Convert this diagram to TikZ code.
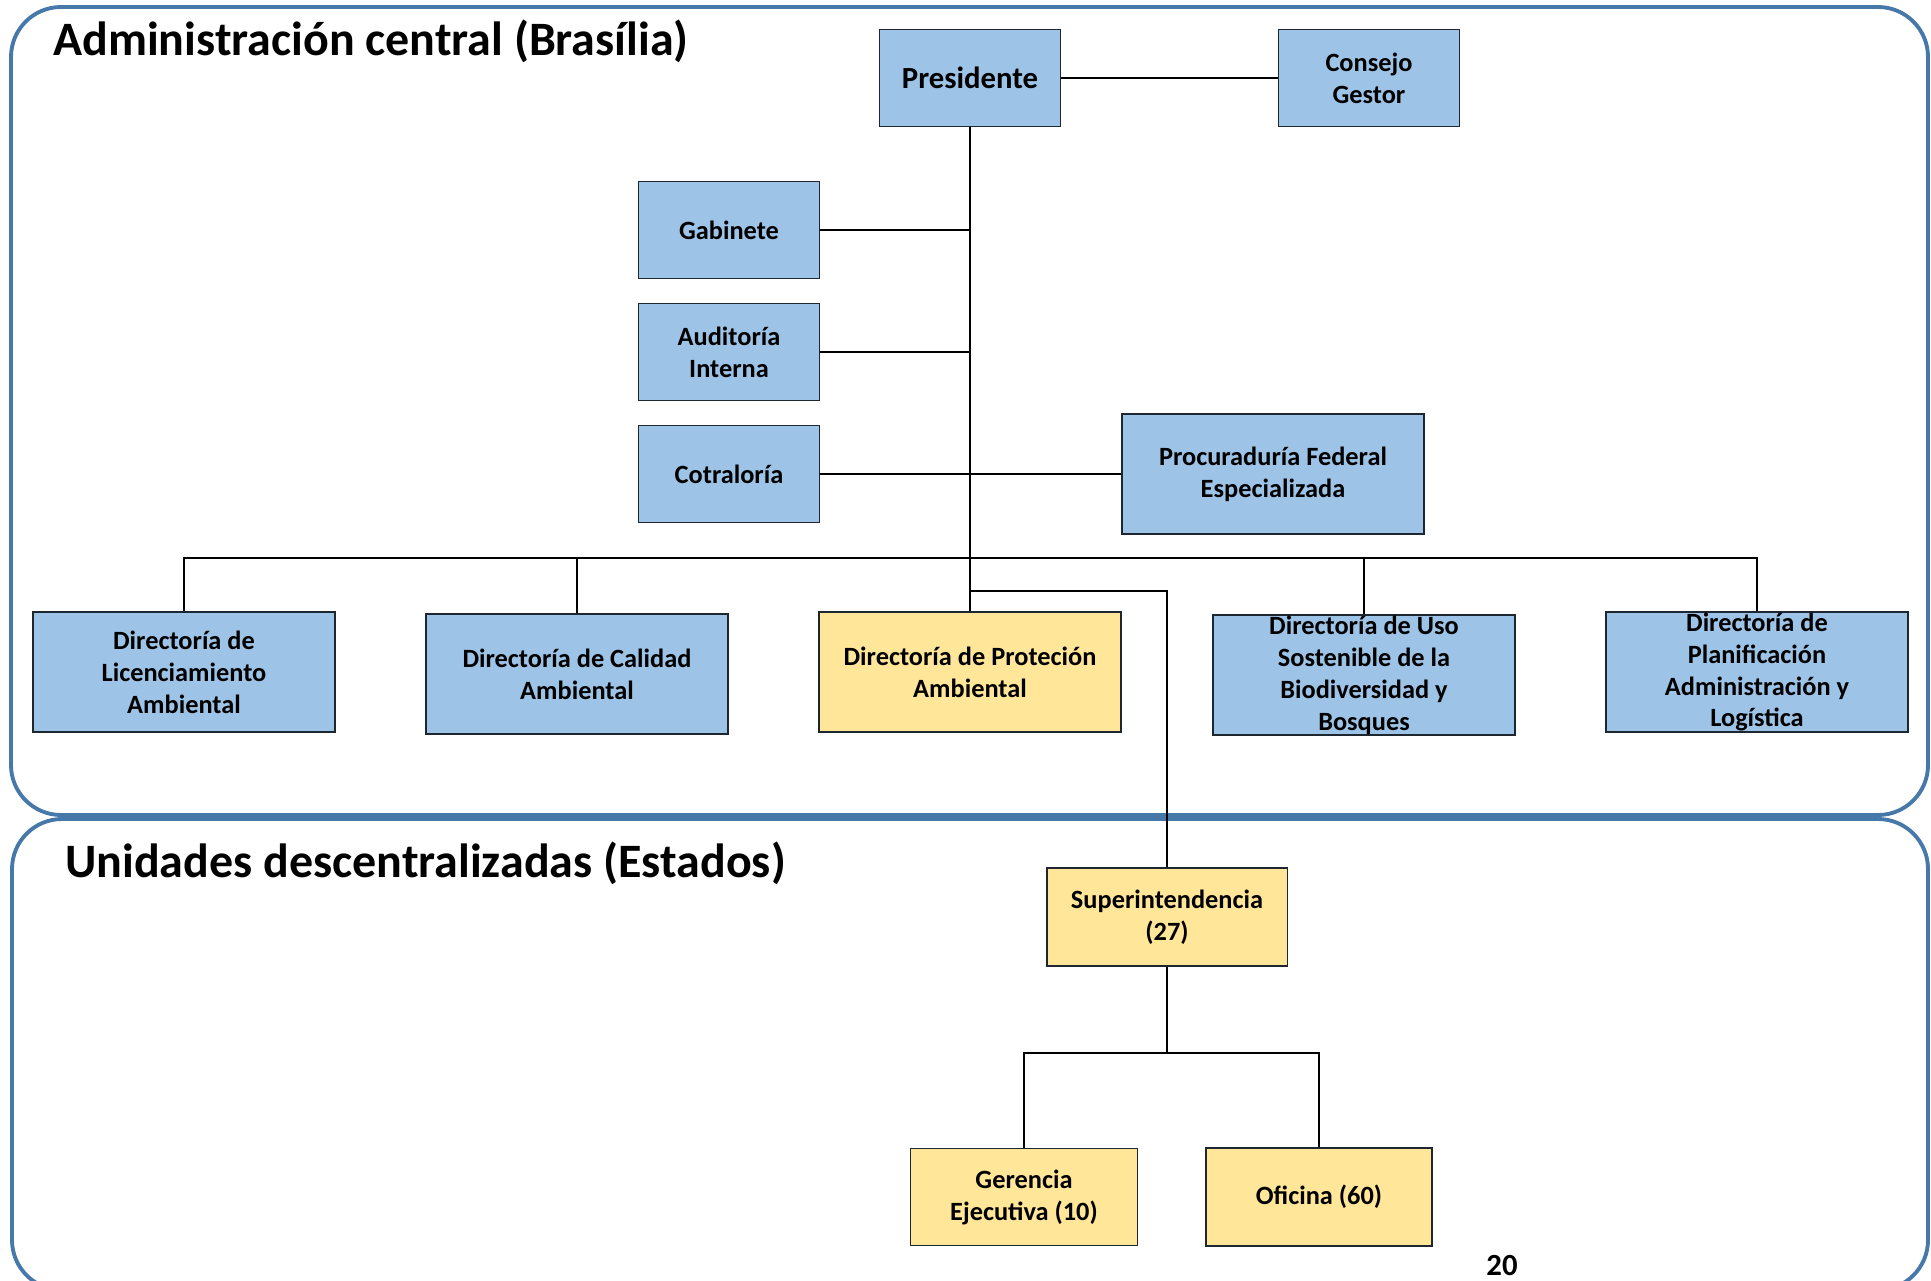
\documentclass[tikz,border=0pt]{standalone}
\usepackage{fontspec}
\setmainfont{Carlito}
\usetikzlibrary{positioning,calc}

\definecolor{boxblue}{RGB}{157,195,230}
\definecolor{boxyellow}{RGB}{255,230,153}
\definecolor{frameblue}{RGB}{71,120,170}
\definecolor{boxline}{RGB}{30,38,48}

\begin{document}
\begin{tikzpicture}[x=0.02cm, y=-0.02cm,
    font=\bfseries\fontsize{15}{18.2}\selectfont,
    unitbox/.style={draw=boxline, line width=1.1pt, rectangle, align=center, inner sep=2pt},
    bluebox/.style={unitbox, fill=boxblue},
    yellowbox/.style={unitbox, fill=boxyellow},
    smallbox/.style={minimum width=3.62cm, minimum height=1.94cm},
    widebox/.style={minimum width=6.04cm, minimum height=2.4cm},
    link/.style={draw=black, line width=0.8pt},
    region/.style={draw=frameblue, line width=2.2pt, rounded corners=1cm},
    heading/.style={anchor=base west, inner sep=0pt, font=\bfseries\fontsize{27.3}{32}\selectfont}]

    \useasboundingbox (0,0) rectangle (1931,1281);

    % the two areas
    \draw[region] (11,7) rectangle (1928,815);
    \draw[region] (12,819) rectangle (1928,1290);
    \node[heading] (central) at (53,55) {Administración central (Brasília)};
    \node[heading] (estados) at (65,877) {Unidades descentralizadas (Estados)};

    % top level
    \node[bluebox, smallbox, font=\bfseries\fontsize{17.5}{21}\selectfont] (pres) at (970,78) {Presidente};
    \node[bluebox, smallbox] (cons) at (1369,78) {Consejo\\Gestor};
    \node[bluebox, smallbox] (gab) at (729,230) {Gabinete};
    \node[bluebox, smallbox] (aud) at (729,352) {Auditoría\\Interna};
    \node[bluebox, smallbox] (cotr) at (729,474) {Cotraloría};
    \node[bluebox, widebox] (proc) at (1273,474) {Procuraduría Federal\\Especializada};

    % directorias
    \node[bluebox, widebox] (dlic) at (184,672) {Directoría de\\Licenciamiento\\Ambiental};
    \node[bluebox, widebox] (dcal) at (577,674) {Directoría de Calidad\\Ambiental};
    \node[yellowbox, widebox] (dprot) at (970,672) {Directoría de Proteción\\Ambiental};
    \node[bluebox, widebox, inner ysep=0pt] (duso) at (1364,675) {Directoría de Uso\\Sostenible de la\\Biodiversidad y\\Bosques};
    \node[bluebox, widebox, inner ysep=0pt] (dplan) at (1757,672) {Directoría de\\Planificación\\Administración y\\Logística};

    % estados
    \node[yellowbox, minimum width=4.82cm, minimum height=1.96cm] (sup) at (1167,917) {Superintendencia\\(27)};
    \node[yellowbox, minimum width=4.54cm, minimum height=1.94cm] (ger) at (1024,1197) {Gerencia\\Ejecutiva (10)};
    \node[yellowbox, minimum width=4.52cm, minimum height=1.96cm] (ofi) at (1319,1197) {Oficina (60)};

    \node[font=\bfseries\fontsize{17.5}{21}\selectfont] (page) at (1502,1266) {20};

    % connectors
    \draw[link] (pres) -- (cons);
    \draw[link] (pres) -- (dprot);
    \draw[link] (gab) -- (gab -| pres);
    \draw[link] (aud) -- (aud -| pres);
    \draw[link] (cotr) -- (cotr -| pres);
    \draw[link] (proc) -- (proc -| pres);
    \coordinate (bus) at (970,558);
    \foreach \d in {dlic,dcal,duso,dplan}
        \draw[link] (bus) -| (\d);
    \coordinate (drop) at (970,591);
    \draw[link] (drop) -| (sup);
    \coordinate (fork) at (1167,1053);
    \draw[link] (sup) -- (fork);
    \draw[link] (fork) -| (ger);
    \draw[link] (fork) -| (ofi);
\end{tikzpicture}
\end{document}
